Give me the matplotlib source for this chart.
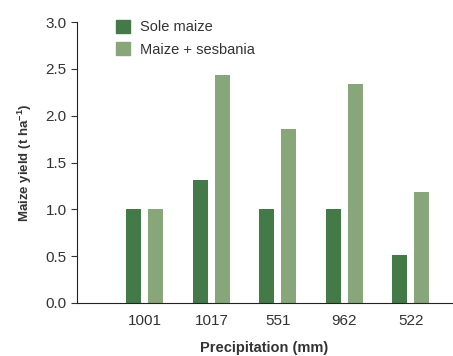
import numpy as np
import matplotlib.pyplot as plt
from matplotlib.patches import Patch

# Data
precip = ["1001", "1017", "551", "962", "522"]
sole_maize = [1.0, 1.31, 1.0, 1.0, 0.51]
maize_sesbania = [1.0, 2.43, 1.86, 2.34, 1.18]

dark_green = "#437a47"
light_green = "#87a67a"
text_col = "#333333"

plt.rcParams['font.family'] = ['Liberation Sans', 'DejaVu Sans']

fig = plt.figure(figsize=(4.53, 3.56), dpi=100)
ax = fig.add_axes([0.170, 0.149, 0.828, 0.789])

x = np.arange(len(precip))
w = 0.226
off = 0.165
ax.bar(x - off, sole_maize, w, color=dark_green)
ax.bar(x + off, maize_sesbania, w, color=light_green)

ax.set_xlim(-1.02, 4.62)
ax.set_ylim(0, 3.0)
yt = np.arange(0, 3.01, 0.5)
ax.set_yticks(yt)
ax.set_yticklabels([f"{v:.1f}" for v in yt])
ax.set_xticks(x)
ax.set_xticklabels(precip)
ax.tick_params(axis='x', length=0, pad=8, labelsize=11, colors=text_col)
ax.tick_params(axis='y', length=4, width=0.8, labelsize=11, colors=text_col)

for s in ["top", "right"]:
    ax.spines[s].set_visible(False)
ax.spines["left"].set_color("#222222")
ax.spines["bottom"].set_color("#222222")

ax.set_xlabel("Precipitation (mm)", fontsize=10.5, fontweight="bold", color=text_col, labelpad=9)
ax.set_ylabel("Maize yield (t ha$^{\\mathregular{-1}}$)", fontsize=9.5, fontweight="bold",
              color=text_col, labelpad=8)

handles = [Patch(color=dark_green, label="Sole maize"),
           Patch(color=light_green, label="Maize + sesbania")]
leg = ax.legend(handles=handles, loc="upper left", bbox_to_anchor=(0.068, 1.055),
                frameon=False, fontsize=10.5, handlelength=1.0, handleheight=1.0,
                handletextpad=0.7, labelspacing=0.55)
for t in leg.get_texts():
    t.set_color(text_col)

fig.savefig("out.png", dpi=100)
